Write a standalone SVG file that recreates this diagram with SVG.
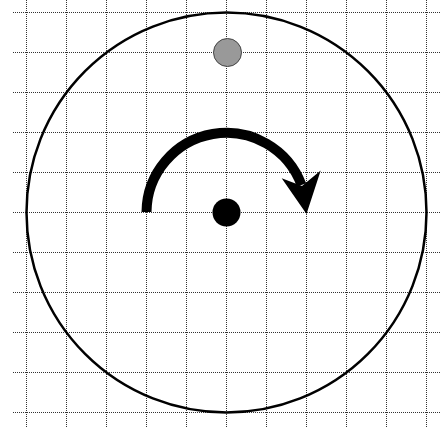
<svg xmlns="http://www.w3.org/2000/svg" width="441" height="428" viewBox="0 0 441 428">
<style>
.grid line{stroke:#333;stroke-width:1;stroke-dasharray:1 1}
</style>
<rect width="441" height="428" fill="#fff"/>
<g class="grid" id="grid">
<line x1="26.5" y1="0" x2="26.5" y2="428"/>
<line x1="66.5" y1="0" x2="66.5" y2="428"/>
<line x1="106.5" y1="0" x2="106.5" y2="428"/>
<line x1="146.5" y1="0" x2="146.5" y2="428"/>
<line x1="186.5" y1="0" x2="186.5" y2="428"/>
<line x1="226.5" y1="0" x2="226.5" y2="428"/>
<line x1="266.5" y1="0" x2="266.5" y2="428"/>
<line x1="306.5" y1="0" x2="306.5" y2="428"/>
<line x1="346.5" y1="0" x2="346.5" y2="428"/>
<line x1="386.5" y1="0" x2="386.5" y2="428"/>
<line x1="426.5" y1="0" x2="426.5" y2="428"/>
<line x1="13" y1="12.5" x2="441" y2="12.5"/>
<line x1="13" y1="52.5" x2="441" y2="52.5"/>
<line x1="13" y1="92.5" x2="441" y2="92.5"/>
<line x1="13" y1="132.5" x2="441" y2="132.5"/>
<line x1="13" y1="172.5" x2="441" y2="172.5"/>
<line x1="13" y1="212.5" x2="441" y2="212.5"/>
<line x1="13" y1="252.5" x2="441" y2="252.5"/>
<line x1="13" y1="292.5" x2="441" y2="292.5"/>
<line x1="13" y1="332.5" x2="441" y2="332.5"/>
<line x1="13" y1="372.5" x2="441" y2="372.5"/>
<line x1="13" y1="412.5" x2="441" y2="412.5"/>
</g>
<g id="wheel">
<circle cx="226.5" cy="212.5" r="200" fill="none" stroke="#000" stroke-width="2.5"/>
</g>
<g id="center">
<circle cx="226.5" cy="212.5" r="14" fill="#000"/>
</g>
<g id="marker-dot">
<circle cx="227.5" cy="52.5" r="14" fill="#999" stroke="#444" stroke-width="1"/>
</g>
<g id="rotation">
<path d="M 146.5 212 A 80 80 0 0 1 301.5 185" fill="none" stroke="#000" stroke-width="10"/>
<polygon points="281.7,178.3 302,186 320.7,170.5 306.5,214" fill="#000"/>
</g>
</svg>
